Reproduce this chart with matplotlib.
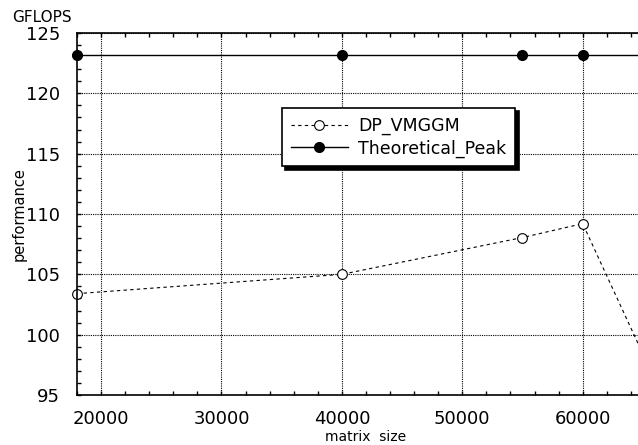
import matplotlib
matplotlib.use("Agg")
import matplotlib.pyplot as plt
from matplotlib.ticker import MultipleLocator

matrix_size = [18000, 40000, 55000, 60000, 65000]
dp_vmggm = [103.4, 105.0, 108.05, 109.2, 98.4]
peak_x = [18000, 40000, 55000, 60000, 65000]
peak_y = [123.2, 123.2, 123.2, 123.2, 123.2]
x_ticks = [20000, 30000, 40000, 50000, 60000]
y_ticks = [95, 100, 105, 110, 115, 120, 125]

plt.rcParams['font.family'] = ['DejaVu Sans']
fig = plt.figure(figsize=(6.38, 4.45), dpi=100)
ax_right_px = 660
ax = fig.add_axes([77/638, 1-395/445, (ax_right_px-77)/638, (395-33)/445])

ax.plot(matrix_size, dp_vmggm, linestyle=(0, (3, 3)), color='black', lw=0.8,
        marker='o', markersize=7, markerfacecolor='white', markeredgecolor='black',
        markeredgewidth=0.8, label='DP_VMGGM', clip_on=False)
ax.plot(peak_x, peak_y, linestyle='-', color='black', lw=1.0,
        marker='o', markersize=7, markerfacecolor='black', markeredgecolor='black',
        label='Theoretical_Peak', clip_on=False)

ax.set_xlim(18000, 18000 + (ax_right_px-77)/120.4*10000)
ax.set_ylim(95, 125)
ax.set_xticks(x_ticks)
ax.set_yticks(y_ticks)
ax.xaxis.set_minor_locator(MultipleLocator(2000))
ax.yaxis.set_minor_locator(MultipleLocator(1))
ax.tick_params(which='both', direction='in', top=True, right=False, labelsize=13, width=1)
ax.tick_params(which='major', length=3)
ax.tick_params(which='minor', length=3)
ax.tick_params(axis='x', pad=11)
ax.tick_params(axis='y', pad=12)
ax.grid(True, which='major', linestyle=(0, (1, 1)), color='black', lw=0.8)
for s in ax.spines.values():
    s.set_linewidth(1.2)
ax.spines['right'].set_visible(False)

fig.text(12/638, 1-17/445, 'GFLOPS', fontsize=11, ha='left', va='center')
fig.text(19/638, 1-214/445, 'performance', fontsize=10.5, rotation=90, ha='center', va='center')
fig.text(366/638, 1-437/445, 'matrix  size', fontsize=10, ha='center', va='center')

leg = ax.legend(loc='upper left',
                bbox_to_anchor=((282-77)/(ax_right_px-77), 1-(108-33)/362),
                fontsize=12.5, frameon=True, fancybox=False,
                shadow={'color': 'black', 'alpha': 1, 'ox': 2.5, 'oy': -2.5},
                edgecolor='black', handlelength=3.3, borderpad=0.5, labelspacing=0.25,
                handletextpad=0.6, borderaxespad=0)
leg.get_frame().set_linewidth(1.2)
leg.get_frame().set_alpha(1)

fig.savefig('out.png', dpi=100)
